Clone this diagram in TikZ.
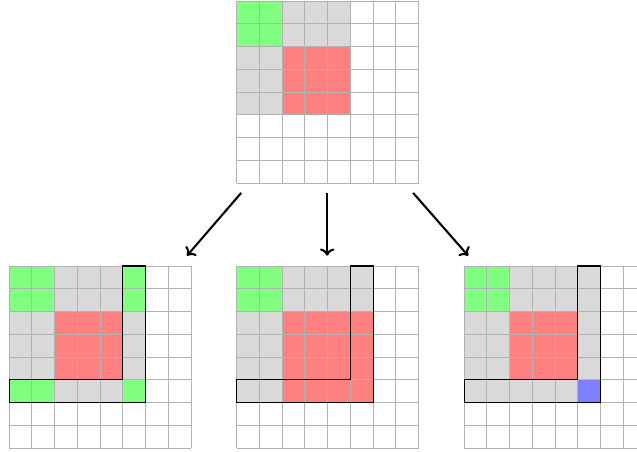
\documentclass[tikz,border=0pt]{standalone}
\usetikzlibrary{positioning, arrows.meta}
\tikzset{>={To[length=4.5pt, width=9pt]}}
\definecolor{cellgreen}{HTML}{80FF80}
\definecolor{cellred}{HTML}{FF8080}
\definecolor{cellgray}{HTML}{D9D9D9}
\definecolor{cellblue}{HTML}{8080FF}
\tikzset{gridline/.style={draw=black!30, line width=0.5pt},
  lborder/.style={draw=black, line width=0.7pt},
  steparrow/.style={->, line width=1.3pt}}

\begin{document}
\begin{tikzpicture}[x=0.5cm, y=-0.5cm]
    \useasboundingbox (-0.4,-0.04) rectangle (27.6,19.82);
    % top board
    \begin{scope}[shift={(10,0)}]
    \fill[cellgreen] (0,0) rectangle (2,2);
    \fill[cellgray] (2,0) rectangle (5,2);
    \fill[cellgray] (0,2) rectangle (2,5);
    \fill[cellred] (2,2) rectangle (5,5);
    \foreach \i in {0,...,8} {
    \draw[gridline] (\i,0) -- (\i,8);
    \draw[gridline] (0,\i) -- (8,\i);
    }
    \end{scope}
    % left board
    \begin{scope}[shift={(0,11.65)}]
    \fill[cellgreen] (0,0) rectangle (2,2);
    \fill[cellgray] (2,0) rectangle (5,2);
    \fill[cellgray] (0,2) rectangle (2,5);
    \fill[cellred] (2,2) rectangle (5,5);
    \fill[cellgreen] (5,0) rectangle (6,2);
    \fill[cellgray] (5,2) rectangle (6,5);
    \fill[cellgreen] (0,5) rectangle (2,6);
    \fill[cellgray] (2,5) rectangle (5,6);
    \fill[cellgreen] (5,5) rectangle (6,6);
    \foreach \i in {0,...,8} {
    \draw[gridline] (\i,0) -- (\i,8);
    \draw[gridline] (0,\i) -- (8,\i);
    }
    \draw[lborder] (5,0) -- (6,0) -- (6,6) -- (0,6) -- (0,5) -- (5,5) -- cycle;
    \end{scope}
    % middle board
    \begin{scope}[shift={(10,11.65)}]
    \fill[cellgreen] (0,0) rectangle (2,2);
    \fill[cellgray] (2,0) rectangle (6,2);
    \fill[cellgray] (0,2) rectangle (2,6);
    \fill[cellred] (2,2) rectangle (6,6);
    \foreach \i in {0,...,8} {
    \draw[gridline] (\i,0) -- (\i,8);
    \draw[gridline] (0,\i) -- (8,\i);
    }
    \draw[lborder] (5,0) -- (6,0) -- (6,6) -- (0,6) -- (0,5) -- (5,5) -- cycle;
    \end{scope}
    % right board
    \begin{scope}[shift={(20,11.65)}]
    \fill[cellgreen] (0,0) rectangle (2,2);
    \fill[cellgray] (2,0) rectangle (6,2);
    \fill[cellgray] (0,2) rectangle (2,6);
    \fill[cellred] (2,2) rectangle (5,5);
    \fill[cellgray] (5,2) rectangle (6,5);
    \fill[cellgray] (2,5) rectangle (5,6);
    \fill[cellblue] (5,5) rectangle (6,6);
    \foreach \i in {0,...,8} {
    \draw[gridline] (\i,0) -- (\i,8);
    \draw[gridline] (0,\i) -- (8,\i);
    }
    \draw[lborder] (5,0) -- (6,0) -- (6,6) -- (0,6) -- (0,5) -- (5,5) -- cycle;
    \end{scope}
    % arrows
    \coordinate (A1) at (10.2,8.44);
    \coordinate (B1) at (7.82,11.2);
    \coordinate (A2) at (13.98,8.44);
    \coordinate (B2) at (13.98,11.2);
    \coordinate (A3) at (17.76,8.44);
    \coordinate (B3) at (20.18,11.2);
    \draw[steparrow] (A1) -- (B1);
    \draw[steparrow] (A2) -- (B2);
    \draw[steparrow] (A3) -- (B3);
\end{tikzpicture}
\end{document}
